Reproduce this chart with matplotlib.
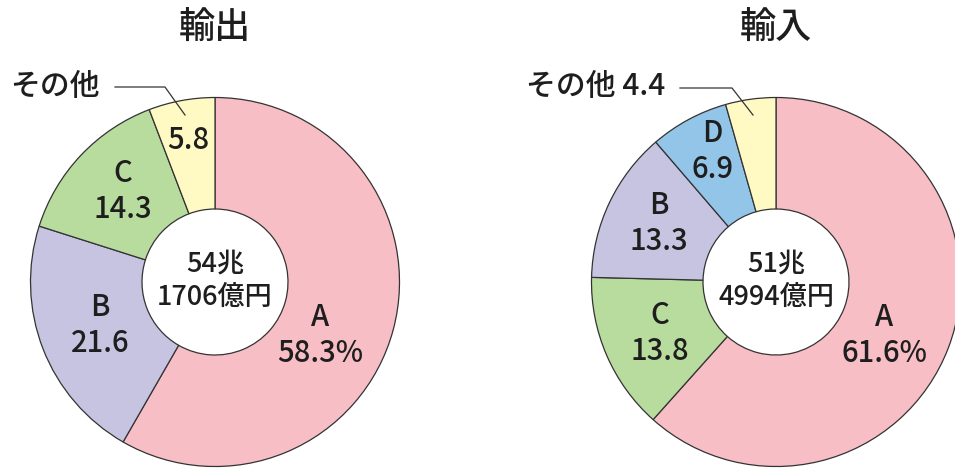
import matplotlib.pyplot as plt

plt.rcParams['font.family'] = ['Noto Sans CJK JP', 'DejaVu Sans']
plt.rcParams['font.weight'] = 'medium'

W, H = 955, 469

# 輸出 / 輸入 の構成比 (%)
export_labels = ['A', 'B', 'C', 'その他']
export_values = [58.3, 21.6, 14.3, 5.8]
import_labels = ['A', 'C', 'B', 'D', 'その他']
import_values = [61.6, 13.8, 13.3, 6.9, 4.4]
export_total = ['54兆', '1706億円']
import_total = ['51兆', '4994億円']

colors = {'A': '#f8bec6', 'B': '#c7c4e2', 'C': '#b8db9e',
          'D': '#93c5e9', 'その他': '#fff9c4'}

# label positions in pixels from top-left (layout only)
export_pos = {'A': (320, 317), 'B': (100, 307), 'C': (123, 173)}
import_pos = {'A': (884, 317), 'C': (660, 315), 'B': (659, 205), 'D': (712, 133)}

fig = plt.figure(figsize=(W / 100, H / 100), dpi=100)
ax = fig.add_axes([0, 0, 1, 1])

R_OUT = 184.5
R_IN = 73
LINE = '#333333'
TXT = '#1e1e1e'
FS = 21


def py(y):
    return H - y


def donut(cx, cy, labels, values, pos, total, title):
    ax.pie(values, colors=[colors[l] for l in labels], startangle=90,
           counterclock=False, center=(cx, py(cy)), radius=R_OUT, frame=True,
           wedgeprops=dict(width=R_OUT - R_IN, edgecolor=LINE, linewidth=0.9))
    for i, (lab, val) in enumerate(zip(labels, values)):
        if lab not in pos:
            continue
        x, y = pos[lab]
        txt = f'{val}%' if i == 0 else f'{val}'
        ax.text(x, py(y), lab, ha='center', va='center', fontsize=FS, color=TXT)
        ax.text(x, py(y + 36), txt, ha='center', va='center', fontsize=FS, color=TXT)
    ax.text(cx, py(cy - 17), total[0], ha='center', va='center', fontsize=FS - 1.5, color=TXT)
    ax.text(cx, py(cy + 15), total[1], ha='center', va='center', fontsize=FS - 1.5, color=TXT)
    ax.text(cx, py(29), title, ha='center', va='center', fontsize=26, color=TXT)


donut(215, 282, export_labels, export_values, export_pos, export_total, '輸出')
donut(776, 282, import_labels, import_values, import_pos, import_total, '輸入')

# その他 (export): value inside, name outside with leader
ax.text(188, py(140), f'{export_values[-1]}', ha='center', va='center', fontsize=FS, color=TXT)
ax.text(55, py(86), export_labels[-1], ha='center', va='center', fontsize=FS + 0.5, color=TXT)
ax.plot([115, 165, 185], [py(87), py(87), py(115)], color=LINE, lw=0.9)

# その他 (import): name and value outside with leader
ax.text(596, py(86), f'{import_labels[-1]} {import_values[-1]}', ha='center', va='center',
        fontsize=FS + 0.5, color=TXT)
ax.plot([680, 732, 753], [py(88), py(88), py(115)], color=LINE, lw=0.9)

ax.set_xlim(0, W)
ax.set_ylim(0, H)
ax.set_aspect('equal')
ax.axis('off')

fig.savefig('out.png', dpi=100)
